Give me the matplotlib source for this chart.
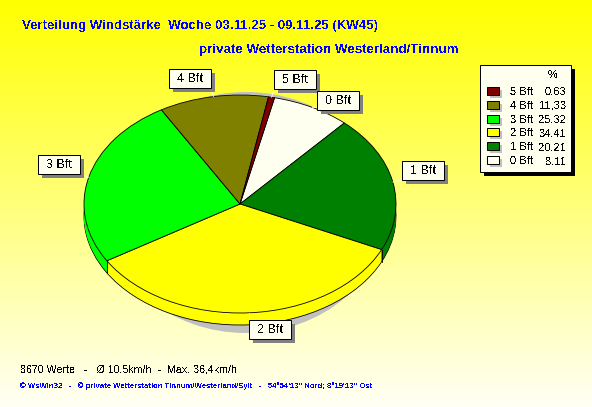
import numpy as np
import matplotlib.pyplot as plt
from matplotlib.patches import Rectangle, Ellipse

labels = ['0 Bft', '1 Bft', '2 Bft', '3 Bft', '4 Bft', '5 Bft']
values = [8.11, 20.21, 34.41, 25.32, 11.33, 0.63]
value_text = ['8,11', '20,21', '34,41', '25,32', '11,33', '0,63']
colors = ['#fffff0', '#008000', '#ffff00', '#00ff00', '#808000', '#800000']

title1 = 'Verteilung Windstärke  Woche 03.11.25 - 09.11.25 (KW45)'
title2 = 'private Wetterstation Westerland/Tinnum'
stats = '8670 Werte   -   Ø 10,5km/h  -  Max. 36,4km/h'
footer = '© WsWin32   -   © private Wetterstation Tinnum/Westerland/Sylt   -   54°54\'13" Nord; 8°19\'13" Ost'

# label box top-left corners in pixels
box_pos = {'0 Bft': (317, 91), '1 Bft': (402, 161), '2 Bft': (249, 320),
           '3 Bft': (38, 155), '4 Bft': (169, 69), '5 Bft': (274, 70)}

W, H = 592, 407
cx, cy, rx, ry = 240, 204, 156, 109
depth = 12
start = 77.2
lw = 0.6

plt.rcParams['font.family'] = ['Liberation Sans', 'DejaVu Sans']
plt.rcParams['text.antialiased'] = False

fig = plt.figure(figsize=(W / 100, H / 100), dpi=100)

# background gradient
bg = fig.add_axes([0, 0, 1, 1])
grad = np.array([[255, 255, 0], [255, 255, 245]]) / 255
t = np.linspace(0, 1, 256)[:, None]
bg.imshow((grad[0] + (grad[1] - grad[0]) * t)[:, None, :], aspect='auto', extent=(0, W, H, 0))
bg.axis('off')

# pie axes, 1 data unit = rx / ry pixels
ax = fig.add_axes([0, 0, 1, 1])
ax.patch.set_alpha(0)
ax.add_patch(Ellipse((6 / rx, -8.5 / ry), 280 / rx, 241 / ry, fc='#c0c0c0', ec='none', zorder=0))

kw = dict(startangle=start, counterclock=False, radius=1)
for d in range(depth, -1, -1):
    edge = 'black' if d in (depth, 0) else 'none'
    wedges, _ = ax.pie(values, colors=colors, center=(0, -d / ry),
                       wedgeprops=dict(edgecolor=edge, linewidth=lw), **kw)
    for w in wedges:
        w.set_zorder(2 + depth - d)
        w.set_clip_on(False)

# vertical side edges where slices meet the front rim
angles = start - np.cumsum(values) * 3.6
for a in angles:
    if np.sin(np.radians(a)) < 0:
        x0 = np.cos(np.radians(a))
        y0 = np.sin(np.radians(a))
        ax.plot([x0, x0], [y0, y0 - depth / ry], color='black', lw=lw, zorder=1.5 + depth + 2)

ax.set_aspect('auto')
ax.set_xlim(-cx / rx, (W - cx) / rx)
ax.set_ylim((cy - H) / ry, cy / ry)
ax.axis('off')

# overlay in pixel coordinates
ov = fig.add_axes([0, 0, 1, 1])
ov.set_xlim(0, W)
ov.set_ylim(H, 0)
ov.patch.set_alpha(0)
ov.axis('off')

mids = start - (np.cumsum(values) - np.array(values) / 2) * 3.6
for lab, m in zip(labels, mids):
    bx, by = box_pos[lab]
    bw, bh = 42, 19
    px = cx + rx * np.cos(np.radians(m))
    py = cy - ry * np.sin(np.radians(m))
    ov.plot([px, min(max(px, bx), bx + bw)], [py, min(max(py, by), by + bh)], color='#fffff0', lw=lw, zorder=3)
    ov.add_patch(Rectangle((bx + 4, by + 4), bw, bh, fc='#808080', ec='none', zorder=4))
    ov.add_patch(Rectangle((bx, by), bw, bh, fc='#fffff0', ec='black', lw=0.72, zorder=5))
    ov.text(bx + bw / 2, by + bh / 2 + 0.5, lab, ha='center', va='center', fontsize=9, color='black', zorder=6)

# legend
ov.add_patch(Rectangle((484, 69), 91, 107, fc='black', ec='none', zorder=4))
ov.add_patch(Rectangle((480, 65), 91, 107, fc='#fffff0', ec='black', lw=0.72, zorder=5))
ov.text(553, 75, '%', ha='center', va='center', fontsize=8, zorder=6)
row_y = [161, 147, 133, 120, 106, 92]
for lab, val, col, y in zip(labels, value_text, colors, row_y):
    ov.add_patch(Rectangle((490, y - 2), 12, 8, fc='#c0c0c0', ec='none', zorder=6))
    ov.add_patch(Rectangle((487, y - 5), 12, 8, fc=col, ec='black', lw=0.72, zorder=7))
    ov.text(510, y, lab, ha='left', va='center', fontsize=8, zorder=7)
    ov.text(566, y, val, ha='right', va='center', fontsize=8, zorder=7)

# titles and notes
ov.text(22, 26, title1, ha='left', va='center', fontsize=9.55, fontweight='bold', color='#0000ff')
ov.text(199, 49.5, title2, ha='left', va='center', fontsize=9.65, fontweight='bold', color='#0000ff')
ov.text(20, 369, stats, ha='left', va='center', fontsize=7.7, color='black')
ov.text(20, 386, footer, ha='left', va='center', fontsize=5.6, fontweight='bold', color='#0000ff')

fig.savefig('out.png', dpi=100)
